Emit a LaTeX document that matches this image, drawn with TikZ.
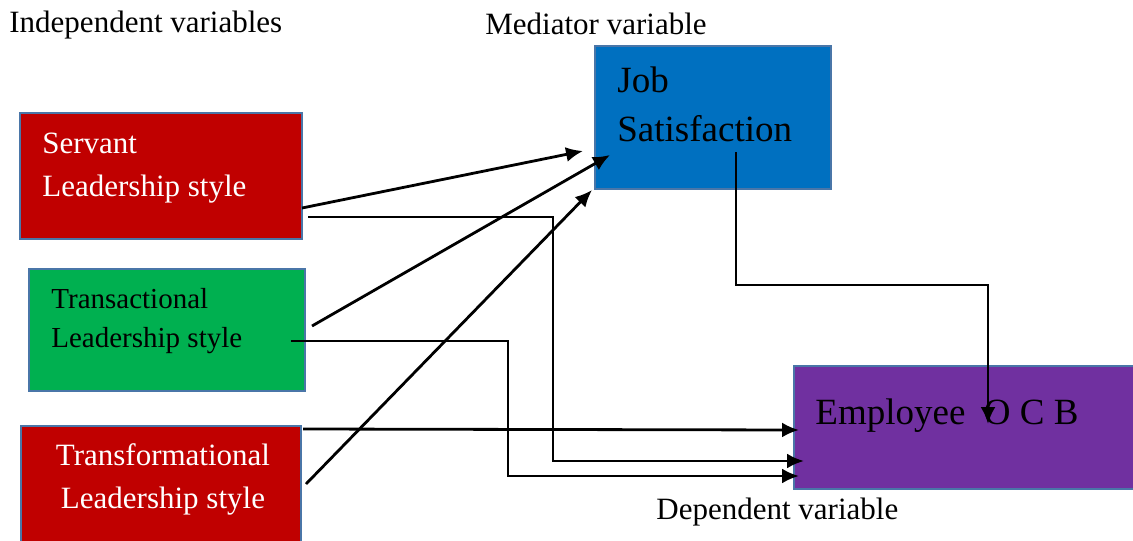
\documentclass[tikz,border=0pt]{standalone}
\usepackage{fontspec}
\setmainfont{Liberation Serif}
\usepackage{xcolor}
\usepackage{tikz}
\usetikzlibrary{arrows.meta,positioning}
\definecolor{redc}{HTML}{C00000}
\definecolor{greenc}{HTML}{00B050}
\definecolor{bluec}{HTML}{0070C0}
\definecolor{purplec}{HTML}{7030A0}
\definecolor{edgec}{HTML}{4A76A8}
\tikzset{
  ar/.style={-{Latex[length=8.5pt,width=7.5pt]},line width=1.4pt,black},
  box/.style={draw=edgec,line width=1pt,inner sep=0pt},
  lbl/.style={anchor=base west,inner sep=0pt,font=\fontsize{15.5}{18}\selectfont},
  big/.style={anchor=base west,inner sep=0pt,font=\fontsize{18.5}{22}\selectfont}
}

\begin{document}
\begin{tikzpicture}[x=0.5pt,y=-0.5pt]
\useasboundingbox (0,0) rectangle (1133,540);
\node[box,fill=redc,minimum width=141pt,minimum height=63pt] (servant) at (161,176) {};
\node[box,fill=greenc,minimum width=138pt,minimum height=61pt] (transac) at (167,330) {};
\node[box,fill=redc,minimum width=140pt,minimum height=68pt] (transf) at (161,494) {};
\node[box,fill=bluec,minimum width=118pt,minimum height=71.5pt] (job) at (713,117.5) {};
\node[box,fill=purplec,minimum width=175pt,minimum height=61.5pt] (ocb) at (969,427.5) {};
\node[lbl] (indep) at (9,33) {Independent variables};
\node[lbl] (medi) at (485,35) {Mediator variable};
\node[lbl] (dep) at (656,519) {Dependent variable};
\node[lbl,white] (servant1) at (42,153) {Servant};
\node[lbl,white] (servant2) at (42,196) {Leadership style};
\node[lbl,font=\fontsize{14.5}{17}\selectfont] (transac1) at (51,308) {Transactional};
\node[lbl,font=\fontsize{14.5}{17}\selectfont] (transac2) at (51,347) {Leadership style};
\node[lbl,white,anchor=base] (transf1) at (163,465) {Transformational};
\node[lbl,white,anchor=base] (transf2) at (163,508) {Leadership style};
\node[big] (job1) at (617,92) {Job};
\node[big] (job2) at (617,141) {Satisfaction};
\node[big] (ocb1) at (815,424) {Employee\ \ O C B};
\coordinate (s1) at (302,208); \coordinate (s2) at (308,217);
\coordinate (t1) at (312,326); \coordinate (t2) at (291,341);
\coordinate (f1) at (306,484); \coordinate (f2) at (303,429);
\coordinate (j1) at (583,151); \coordinate (j2) at (610,155); \coordinate (j3) at (592,190);
\coordinate (j4) at (736,152);
\coordinate (o1) at (799,430); \coordinate (o2) at (804,461); \coordinate (o3) at (799,476);
\coordinate (o4) at (988,424);
\draw[ar] (s1) -- (j1);
\draw[ar] (t1) -- (j2);
\draw[ar] (f1) -- (j3);
\draw[ar] (s2) -- (553,217) |- (o2);
\draw[ar] (t2) -- (508,341) |- (o3);
\draw[ar] (f2) -- (o1);
\draw[ar] (j4) -- (736,285) -| (o4);
\end{tikzpicture}
\end{document}
